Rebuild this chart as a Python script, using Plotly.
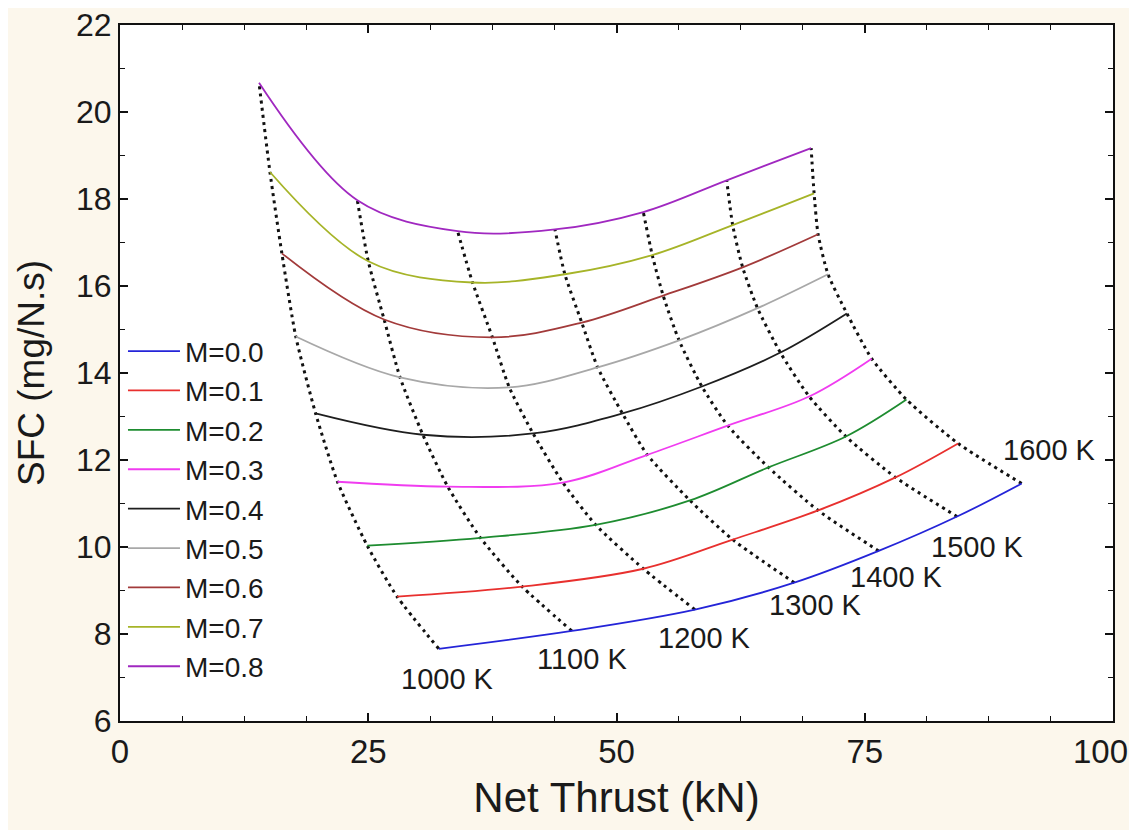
import plotly.graph_objects as go

# ---------------- data ----------------
temperatures = ["1000 K", "1100 K", "1200 K", "1300 K", "1400 K", "1500 K", "1600 K"]
mach_labels = ["M=0.0", "M=0.1", "M=0.2", "M=0.3", "M=0.4", "M=0.5", "M=0.6", "M=0.7", "M=0.8"]

# net thrust (kN) at each turbine inlet temperature, per Mach number
thrust_m00 = [32.1, 45.5, 57.9, 67.9, 76.4, 84.3, 90.8]
thrust_m01 = [27.9, 40.5, 52.7, 61.7, 70.3, 78.1, 84.4]
thrust_m02 = [24.9, 36.3, 47.9, 57.4, 65.3, 73.1, 79.2]
thrust_m03 = [21.9, 33.0, 44.6, 53.1, 61.2, 69.4, 75.7]
thrust_m04 = [19.7, 30.5, 41.6, 50.6, 58.6, 66.5, 73.2]
thrust_m05 = [17.7, 28.2, 39.2, 48.1, 56.3, 64.2, 71.3]
thrust_m06 = [16.3, 26.6, 37.5, 46.5, 54.7, 62.7, 70.3]
thrust_m07 = [15.1, 25.0, 35.5, 44.8, 53.6, 61.7, 69.9]
thrust_m08 = [14.0, 23.9, 34.0, 43.8, 52.7, 61.1, 69.6]

# SFC (mg/N.s)
sfc_m00 = [7.66, 8.07, 8.56, 9.18, 9.91, 10.70, 11.46]
sfc_m01 = [8.86, 9.09, 9.50, 10.17, 10.84, 11.60, 12.38]
sfc_m02 = [10.03, 10.21, 10.51, 11.07, 11.83, 12.54, 13.39]
sfc_m03 = [11.50, 11.39, 11.48, 12.12, 12.79, 13.46, 14.33]
sfc_m04 = [13.07, 12.58, 12.61, 13.07, 13.69, 14.47, 15.37]
sfc_m05 = [14.84, 13.90, 13.67, 14.13, 14.75, 15.49, 16.27]
sfc_m06 = [16.75, 15.23, 14.82, 15.16, 15.78, 16.43, 17.19]
sfc_m07 = [18.62, 16.57, 16.08, 16.27, 16.71, 17.40, 18.13]
sfc_m08 = [20.67, 17.97, 17.26, 17.30, 17.70, 18.43, 19.17]

x_tick_vals = [0, 25, 50, 75, 100]
x_tick_text = ["0", "25", "50", "75", "100"]
y_tick_vals = [6, 8, 10, 12, 14, 16, 18, 20, 22]

# ---------------- styling ----------------
thrust = [thrust_m00, thrust_m01, thrust_m02, thrust_m03, thrust_m04,
          thrust_m05, thrust_m06, thrust_m07, thrust_m08]
sfc = [sfc_m00, sfc_m01, sfc_m02, sfc_m03, sfc_m04,
       sfc_m05, sfc_m06, sfc_m07, sfc_m08]
colors = ["#2424d8", "#e8302e", "#1e8c30", "#f03cf0", "#1e1e1e",
          "#a8a8a8", "#a23a3a", "#a6b428", "#a028c0"]
# label offsets (pixels) relative to the M=0.0 end of each temperature line
label_shift = [(9, -30), (10, -28), (10, -28), (21, -22), (18, -26), (20, -30), (28, 33)]

FONT = "Liberation Sans, Arial, sans-serif"
TXT = "#1a1a1a"
XTICK_SIZE = 33

fig = go.Figure()

# constant-temperature dotted lines
for j, tname in enumerate(temperatures):
    fig.add_trace(go.Scatter(
        x=[thrust[i][j] for i in range(len(mach_labels))],
        y=[sfc[i][j] for i in range(len(mach_labels))],
        mode="lines",
        line=dict(color="#111111", width=3, dash="3px,4.2px", shape="spline", smoothing=0.6),
        showlegend=False, hoverinfo="skip"))

# constant-Mach curves
for i, name in enumerate(mach_labels):
    fig.add_trace(go.Scatter(
        x=thrust[i], y=sfc[i], mode="lines", name=name,
        legendgroup=name,
        line=dict(color=colors[i], width=1.8, shape="spline", smoothing=1.0)))

for j, tname in enumerate(temperatures):
    dx, dy = label_shift[j]
    fig.add_annotation(x=thrust[0][j], y=sfc[0][j], text=tname, showarrow=False,
                       xshift=dx, yshift=dy,
                       font=dict(family=FONT, size=29, color=TXT))

# the last x tick label sits just inside the right edge (as in the original)
fig.add_annotation(x=x_tick_vals[-1], xref="x", y=0, yref="paper",
                   text=x_tick_text[-1], showarrow=False,
                   xanchor="right", yanchor="middle", xshift=17, yshift=-30,
                   font=dict(family=FONT, size=XTICK_SIZE, color=TXT))

axis_common = dict(showline=True, linecolor="#111111", linewidth=2, mirror="ticks",
                   ticks="inside", ticklen=8, tickwidth=1.5, tickcolor="#111111",
                   showgrid=False, zeroline=False, ticklabeloverflow="allow")

fig.update_xaxes(range=[0, 100], tickvals=x_tick_vals,
                 ticktext=x_tick_text[:-1] + [""],
                 minor=dict(dtick=6.25, ticks="inside", ticklen=5, tickwidth=1.3, tickcolor="#111111"),
                 tickfont=dict(family=FONT, size=XTICK_SIZE, color=TXT),
                 title=dict(text="Net Thrust (kN)", font=dict(family=FONT, size=42, color=TXT), standoff=14),
                 automargin=False, **axis_common)
fig.update_yaxes(range=[6, 22], tickvals=y_tick_vals,
                 minor=dict(dtick=1, ticks="inside", ticklen=5, tickwidth=1.3, tickcolor="#111111"),
                 tickfont=dict(family=FONT, size=32, color=TXT),
                 title=dict(text="SFC (mg/N.s)", font=dict(family=FONT, size=37, color=TXT), standoff=20),
                 automargin=False, **axis_common)

fig.update_layout(
    width=1129, height=822,
    margin=dict(l=112, r=24, t=17, b=109),
    paper_bgcolor="#fcf7ec", plot_bgcolor="#ffffff",
    legend=dict(x=0.003, y=0.567, xanchor="left", yanchor="top",
                bgcolor="rgba(0,0,0,0)", borderwidth=0,
                font=dict(family=FONT, size=28, color=TXT),
                tracegroupgap=0, itemwidth=52),
    showlegend=True,
)

fig.write_html("out.html")
